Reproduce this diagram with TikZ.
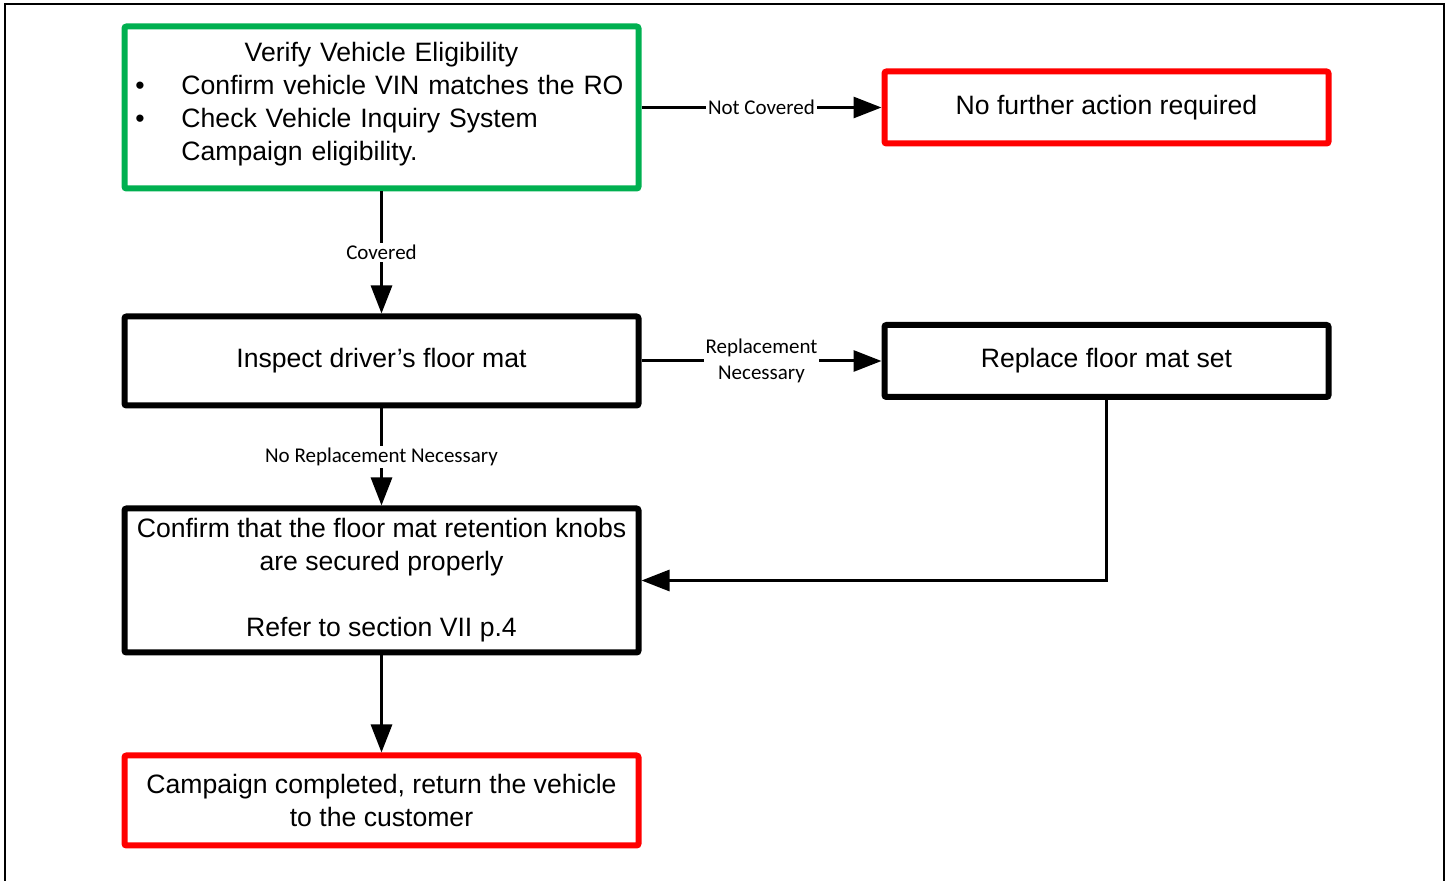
\documentclass[tikz,border=0pt]{standalone}
\usepackage{fontspec}
\setmainfont{Liberation Sans}
\newfontfamily\lblfont{Carlito}
\usepackage{xcolor}
\usetikzlibrary{arrows.meta,positioning}
\definecolor{okgreen}{RGB}{0,176,80}
\definecolor{stopred}{RGB}{255,0,0}
\tikzset{
	>=Latex,
	stepbox/.style={
		rectangle,
		draw=black,
		line width=3pt,
		outer sep=0pt,
		rounded corners=1pt,
		align=center,
		inner xsep=4pt,
		font=\fontsize{13.3}{16.5}\selectfont
	},
	conn/.style={
		-{Triangle[length=14pt,width=10.5pt]},
		line width=1.5pt,
		shorten >=1.5pt,
		shorten <=1.5pt
	},
	lbl/.style={
		fill=white,
		inner sep=1pt,
		align=center,
		font=\lblfont\fontsize{10.5}{13}\selectfont
	}
}

\begin{document}
\begin{tikzpicture}[
	x=0.5pt, y=-0.5pt,
	wide/.style={stepbox, minimum width=257pt},
	narrow/.style={stepbox, minimum width=222pt, minimum height=36pt}
	]
	\useasboundingbox (0,0) rectangle (1447,881);
	
	%--------------------
	% Frame
	%--------------------
	\draw[line width=1pt] (5,890) -- (5,4) -- (1444,4) -- (1444,890);
	
	%--------------------
	% Left column
	%--------------------
	\node[wide, draw=okgreen, minimum height=81pt, text width=249pt, align=left]
	at (381.5,107.5) (verify)
	{\makebox[\linewidth][c]{Verify Vehicle Eligibility}\\
		\makebox[24.5pt][l]{\hspace{1.5pt}\textbullet}Confirm vehicle VIN matches the RO\\
		\makebox[24.5pt][l]{\hspace{1.5pt}\textbullet}Check Vehicle Inquiry System\\
		\hspace*{24.5pt}Campaign eligibility.\rule[-6pt]{0pt}{0pt}};
	
	\node[wide, minimum height=44.5pt, below=64pt of verify] (inspect)
	{Inspect driver's floor mat};
	
	\node[wide, minimum height=72pt, below=51.5pt of inspect] (confirm)
	{Confirm that the floor mat retention knobs\\
		are secured properly\\[16.5pt]
		Refer to section VII p.4};
	
	\node[wide, draw=stopred, minimum height=45pt, below=51.5pt of confirm] (done)
	{Campaign completed, return the vehicle\\
		to the customer};
	
	%--------------------
	% Right column
	%--------------------
	\node[narrow, draw=stopred, right=123pt of verify] (noaction)
	{No further action required};
	
	\node[narrow, right=123pt of inspect] (replace)
	{Replace floor mat set};
	
	%--------------------
	% Connections
	%--------------------
	\draw[conn] (verify) -- node[lbl] {Not Covered} (noaction);
	\draw[conn] (verify) -- node[lbl] {Covered} (inspect);
	\draw[conn] (inspect) -- node[lbl] {Replacement\\Necessary} (replace);
	\draw[conn] (inspect) -- node[lbl] {No Replacement Necessary} (confirm);
	\draw[conn] (replace.south) |- (confirm.east);
	\draw[conn] (confirm) -- (done);
	
\end{tikzpicture}
\end{document}
